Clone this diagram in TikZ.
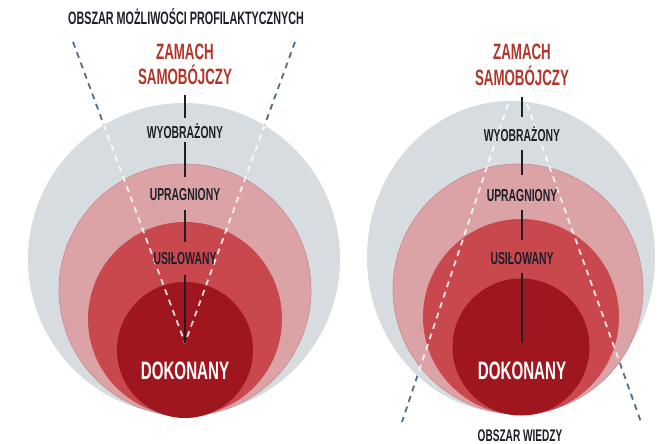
\documentclass[tikz,border=0pt]{standalone}
\usepackage{fontspec}
\newfontfamily\cond{Liberation Sans}[FakeStretch=0.6]
\definecolor{cgrey}{HTML}{D6DCE0}
\definecolor{cpink}{HTML}{DBA3A6}
\definecolor{cpinkedge}{HTML}{C98A8E}
\definecolor{cmed}{HTML}{C8484E}
\definecolor{cdark}{HTML}{A0161E}
\definecolor{ctxt}{HTML}{1E1E28}
\definecolor{cred}{HTML}{B0352B}
\definecolor{cdash}{HTML}{4F6F8A}
\begin{document}
\begin{tikzpicture}[x=1pt,y=-1pt,
  lbl/.style={inner sep=0pt,text depth=0pt,text height=12.4pt,text=ctxt,
    font=\cond\bfseries\fontsize{17.3}{17.3}\selectfont},
  head/.style={inner sep=0pt,text depth=0pt,text height=15.9pt,text=cred,
    font=\cond\bfseries\fontsize{22.2}{22.2}\selectfont},
  done/.style={inner sep=0pt,text depth=0pt,text height=18pt,text=white,
    font=\cond\bfseries\fontsize{25.2}{25.2}\selectfont},
  area/.style={inner sep=0pt,text depth=0pt,text height=12pt,text=ctxt,
    font=\cond\bfseries\fontsize{16.8}{16.8}\selectfont},
  vline/.style={draw=ctxt,line width=1.4pt},
  darkdash/.style={draw=cdash,line width=1.8pt,dash pattern=on 6pt off 5pt},
  whitedash/.style={draw=white,opacity=0.85,line width=1.8pt,dash pattern=on 6pt off 5pt}]
\useasboundingbox (0,0) rectangle (661,444);
\fill[white] (0,0) rectangle (661,444);

% ---------- dashed lines (dark parts, behind circles) ----------
\coordinate (lTopA) at (73,42);
\coordinate (lTopB) at (295,42);
\coordinate (lApex) at (185,343);
\coordinate (rTopA) at (508,104);
\coordinate (rTopB) at (527,104);
\coordinate (rEndA) at (402,422);
\coordinate (rEndB) at (641,422);
\draw[darkdash] (lTopA) -- (lApex);
\draw[darkdash] (lTopB) -- (lApex);
\draw[darkdash] (rTopA) -- (rEndA);
\draw[darkdash] (rTopB) -- (rEndB);

% ---------- left circles ----------
\fill[cgrey] (184,259) circle[radius=156];
\filldraw[fill=cpink,draw=cpinkedge,line width=0.6pt] (185,290) circle[radius=126];
\fill[cmed] (185,319) circle[radius=97];
\fill[cdark] (185,350) circle[radius=68];

% ---------- right circles ----------
\fill[cgrey] (511,257) ellipse[x radius=144,y radius=156];
\filldraw[fill=cpink,draw=cpinkedge,line width=0.6pt] (518,289) circle[radius=125];
\fill[cmed] (521,317) circle[radius=98];
\fill[cdark] (521,347) circle[radius=68.5];

% ---------- white dashes inside circles ----------
\begin{scope}
\clip (184,259) circle[radius=156];
\draw[whitedash] (lTopA) -- (lApex);
\draw[whitedash] (lTopB) -- (lApex);
\end{scope}
\begin{scope}
\clip (511,257) ellipse[x radius=144,y radius=156];
\draw[whitedash] (rTopA) -- (rEndA);
\draw[whitedash] (rTopB) -- (rEndB);
\end{scope}

% ---------- left labels ----------
\node[area,font=\cond\bfseries\fontsize{18}{18}\selectfont,text height=12.9pt] (areaL) at (186,18) {OBSZAR MOŻLIWOŚCI PROFILAKTYCZNYCH};
\node[head] (zamL) at (185,52) {ZAMACH};
\node[head] (samL) at (185,77) {SAMOBÓJCZY};
\node[lbl] (wyoL) at (185,132) {WYOBRAŻONY};
\node[lbl] (uprL) at (185,194) {UPRAGNIONY};
\node[lbl] (usiL) at (185,258) {USIŁOWANY};
\node[done] (dokL) at (185,370) {DOKONANY};
\draw[vline,shorten <=10pt,shorten >=7.8pt] (samL.south) -- (wyoL.north);
\draw[vline,shorten <=3.8pt,shorten >=10.8pt] (wyoL.south) -- (uprL.north);
\draw[vline,shorten <=9.8pt,shorten >=9.8pt] (uprL.south) -- (usiL.north);
\draw[vline,shorten <=10.8pt,shorten >=18pt] (usiL.south) -- (dokL.north);

% ---------- right labels ----------
\node[head] (zamR) at (522,52) {ZAMACH};
\node[head] (samR) at (522,78) {SAMOBÓJCZY};
\node[lbl] (wyoR) at (522,135) {WYOBRAŻONY};
\node[lbl] (uprR) at (522,195) {UPRAGNIONY};
\node[lbl] (usiR) at (522,258) {USIŁOWANY};
\node[done] (dokR) at (522,370) {DOKONANY};
\node[area] (areaR) at (520,435.5) {OBSZAR WIEDZY};
\draw[vline,shorten <=11pt,shorten >=11.8pt] (samR.south) -- (wyoR.north);
\draw[vline,shorten <=8.8pt,shorten >=13.8pt] (wyoR.south) -- (uprR.north);
\draw[vline,shorten <=8.8pt,shorten >=11.8pt] (uprR.south) -- (usiR.north);
\draw[vline,shorten <=8.8pt,shorten >=18pt] (usiR.south) -- (dokR.north);
\end{tikzpicture}
\end{document}
